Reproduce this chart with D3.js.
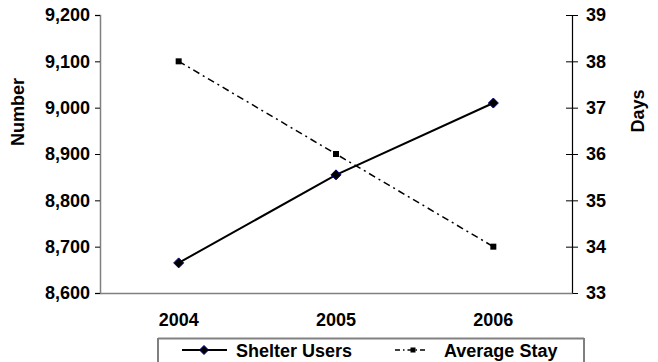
<!DOCTYPE html>
<html>
<head>
<meta charset="utf-8">
<script src="https://cdn.jsdelivr.net/npm/d3@7"></script>
<style>
  html, body { margin: 0; padding: 0; background: #fff; }
  svg { display: block; font-family: "Liberation Sans", Arial, sans-serif; font-weight: bold; }
</style>
</head>
<body>
<svg id="chart" width="658" height="362"></svg>
<script>
// Shelter use by year: number of users (left axis) and average stay in days (right axis)
const years = ["2004", "2005", "2006"];
const shelterUsers = [8665, 8855, 9010];
const averageStay = [38, 36, 34];
const numberTicks = [8600, 8700, 8800, 8900, 9000, 9100, 9200];
const dayTicks = [33, 34, 35, 36, 37, 38, 39];

const svg = d3.select("#chart");
const plot = { left: 100, right: 572, top: 15, bottom: 293 };

const x = d3.scaleBand().domain(years).range([plot.left, plot.right]);
const yLeft = d3.scaleLinear().domain([8600, 9200]).range([plot.bottom, plot.top]);
const yRight = d3.scaleLinear().domain([33, 39]).range([plot.bottom, plot.top]);
const cx = d => x(d) + x.bandwidth() / 2;

const styleText = sel => sel.attr("font-size", 18).attr("font-weight", "bold").attr("fill", "#000")
  .attr("font-family", "Liberation Sans, Arial, sans-serif");

// Left axis (Number)
const gL = svg.append("g").attr("transform", `translate(${plot.left},0)`)
  .call(d3.axisLeft(yLeft).tickValues(numberTicks).tickFormat(d3.format(",")).tickSize(5).tickPadding(5));
gL.select(".domain").attr("stroke", "#808080").attr("stroke-width", 1.5);
gL.selectAll(".tick line").attr("stroke", "#000");
gL.selectAll(".tick text").call(styleText);

// Right axis (Days) with crossing tick marks
const gR = svg.append("g").attr("transform", `translate(${plot.right},0)`)
  .call(d3.axisRight(yRight).tickValues(dayTicks).tickFormat(d3.format("d")).tickSize(6).tickSizeOuter(0).tickPadding(8));
gR.select(".domain").attr("stroke", "#000").attr("stroke-width", 1.2);
gR.selectAll(".tick line").attr("x1", -6).attr("x2", 6).attr("stroke", "#000");
gR.selectAll(".tick text").call(styleText);

// Category axis along the bottom
const gB = svg.append("g").attr("transform", `translate(0,${plot.bottom})`)
  .call(d3.axisBottom(x).tickSize(0).tickPadding(20));
gB.select(".domain").attr("stroke", "#808080").attr("stroke-width", 1.5);
gB.selectAll(".tick text").call(styleText);

// Axis titles
svg.append("text").attr("transform", "translate(24,112) rotate(-90)")
  .attr("text-anchor", "middle").attr("font-size", 18).text("Number");
svg.append("text").attr("transform", "translate(644,111) rotate(-90)")
  .attr("text-anchor", "middle").attr("font-size", 18).text("Days");

// Average Stay: dash-dot line with square markers
const lineStay = d3.line().x((d, i) => cx(years[i])).y(d => yRight(d));
svg.append("path").datum(averageStay).attr("d", lineStay)
  .attr("fill", "none").attr("stroke", "#000").attr("stroke-width", 1.5)
  .attr("stroke-dasharray", "7,4,2,4");
svg.selectAll(".sq").data(averageStay).join("rect")
  .attr("x", (d, i) => cx(years[i]) - 3).attr("y", d => yRight(d) - 3)
  .attr("width", 6).attr("height", 6).attr("fill", "#000");

// Shelter Users: solid line with diamond markers
const lineUsers = d3.line().x((d, i) => cx(years[i])).y(d => yLeft(d));
svg.append("path").datum(shelterUsers).attr("d", lineUsers)
  .attr("fill", "none").attr("stroke", "#000").attr("stroke-width", 2);
const diamond = r => `M0,${-r}L${r},0L0,${r}L${-r},0Z`;
svg.selectAll(".dm").data(shelterUsers).join("path")
  .attr("transform", (d, i) => `translate(${cx(years[i])},${yLeft(d)})`)
  .attr("d", diamond(5)).attr("fill", "#000").attr("stroke", "#000080").attr("stroke-width", 1);

// Legend
const lg = svg.append("g");
lg.append("rect").attr("x", 158).attr("y", 338.5).attr("width", 426).attr("height", 40)
  .attr("fill", "#fff").attr("stroke", "#000").attr("stroke-width", 1);
lg.append("line").attr("x1", 158).attr("x2", 584).attr("y1", 338.5).attr("y2", 338.5)
  .attr("stroke", "#808080").attr("stroke-width", 2);
lg.append("line").attr("x1", 182).attr("x2", 227).attr("y1", 350).attr("y2", 350)
  .attr("stroke", "#000").attr("stroke-width", 2);
lg.append("path").attr("transform", "translate(204,350)").attr("d", diamond(4.5))
  .attr("fill", "#000").attr("stroke", "#000080").attr("stroke-width", 1);
lg.append("text").attr("x", 236).attr("y", 356.5).attr("font-size", 18).text("Shelter Users");
lg.append("line").attr("x1", 395).attr("x2", 428).attr("y1", 350).attr("y2", 350)
  .attr("stroke", "#000").attr("stroke-width", 1.5).attr("stroke-dasharray", "5,3,1.5,3");
lg.append("rect").attr("x", 410.5).attr("y", 347.5).attr("width", 5).attr("height", 5).attr("fill", "#000");
lg.append("text").attr("x", 444).attr("y", 356.5).attr("font-size", 18).text("Average Stay");
</script>
</body>
</html>
